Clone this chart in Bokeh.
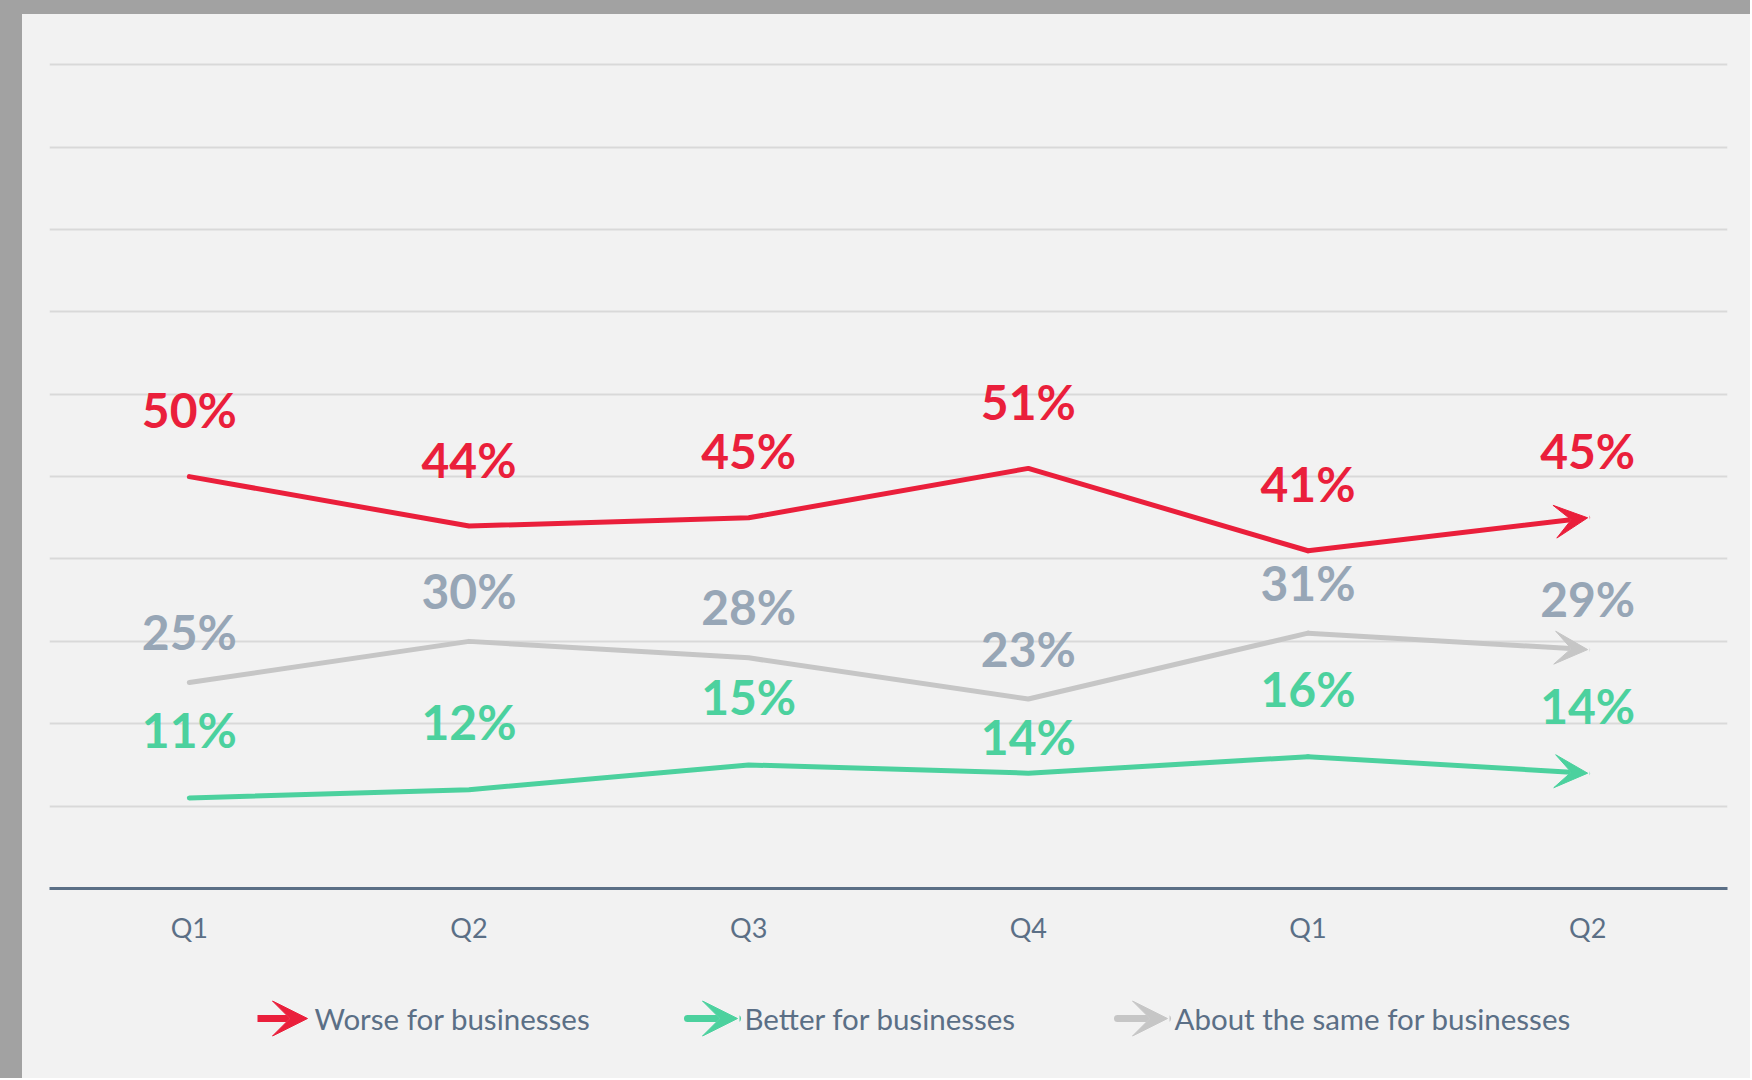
from bokeh.plotting import figure
from bokeh.layouts import column
from bokeh.models import Range1d, FixedTicker, Arrow, VeeHead
from bokeh.core.properties import value
from bokeh.embed import file_html
from bokeh.resources import INLINE

# ---------------- data ----------------
quarters = ["Q1", "Q2", "Q3", "Q4", "Q1", "Q2"]
worse = [50, 44, 45, 51, 41, 45]
better = [11, 12, 15, 14, 16, 14]
same = [25, 30, 28, 23, 31, 29]
grid_ticks = [10, 20, 30, 40, 50, 60, 70, 80, 90, 100]
series_names = ["Worse for businesses", "Better for businesses", "About the same for businesses"]

# ---------------- styles ----------------
RED = "#EA1F3B"
GREEN = "#4CD19E"
GRAY_LINE = "#C6C6C6"
GRAY_LABEL = "#97A6B6"
SLATE = "#5B6F86"
BG = "#F2F2F2"
FONT = "Lato"

xs = [i + 0.5 for i in range(len(quarters))]

W = 1728
BL, BR = 27, 23
p = figure(width=W, height=946, output_backend="svg", toolbar_location=None,
           x_range=Range1d(0, len(quarters)), y_range=Range1d(0, 101),
           y_axis_location=None, min_border_left=BL, min_border_right=BR,
           min_border_top=42, min_border_bottom=72)
p.background_fill_color = BG
p.border_fill_color = BG
p.outline_line_color = None
p.xgrid.visible = False
p.ygrid.ticker = FixedTicker(ticks=grid_ticks)
p.ygrid.grid_line_color = "#D9D9D9"
p.ygrid.grid_line_width = 2

ax = p.xaxis[0]
ax.ticker = FixedTicker(ticks=xs)
ax.major_label_overrides = {x: q for x, q in zip(xs, quarters)}
ax.axis_line_color = SLATE
ax.axis_line_width = 3
ax.major_tick_line_color = None
ax.minor_tick_line_color = None
ax.major_label_text_font = FONT
ax.major_label_text_font_size = "27px"
ax.major_label_text_color = SLATE
ax.major_label_standoff = 16

# label offsets (px above the point); the Q4 "better" label sits closer to its line
series = [
    (same, GRAY_LINE, GRAY_LABEL, [-51] * 6),
    (better, GREEN, GREEN, [-68, -68, -68, -37, -68, -68]),
    (worse, RED, RED, [-67] * 6),
]
for vals, lc, tc, offs in series:
    p.line(xs[:-1], vals[:-1], line_color=lc, line_width=5, line_join="round", line_cap="round")
    p.add_layout(Arrow(end=VeeHead(size=33, fill_color=lc, line_color=lc, line_width=1),
                       x_start=xs[-2], y_start=vals[-2], x_end=xs[-1], y_end=vals[-1],
                       line_color=lc, line_width=5, line_cap="round"))
    p.text(x=xs, y=vals, text=[f"{v}%" for v in vals], y_offset=offs,
           text_font=value(FONT), text_font_style="bold",
           text_font_size="48px", text_color=tc, text_align="center",
           text_baseline="middle")

# ---------------- legend ----------------
LH = 118
pl = figure(width=W, height=LH, output_backend="svg", toolbar_location=None,
            x_range=Range1d(BL, W - BR), y_range=Range1d(0, LH),
            x_axis_location=None, y_axis_location=None,
            min_border_left=BL, min_border_right=BR, min_border_top=0, min_border_bottom=0)
pl.background_fill_color = BG
pl.border_fill_color = BG
pl.outline_line_color = None
pl.grid.visible = False

leg_x = [235, 665, 1095]
leg_colors = [RED, GREEN, GRAY_LINE]
leg_caps = ["butt", "round", "round"]
for x0, c, name, cap in zip(leg_x, leg_colors, series_names, leg_caps):
    pl.add_layout(Arrow(end=VeeHead(size=35, fill_color=c, line_color=c, line_width=1),
                        x_start=x0, y_start=60, x_end=x0 + 50, y_end=60,
                        line_color=c, line_width=7, line_cap=cap))
    pl.text([x0 + 57], [60], text=[name], text_font=value(FONT), text_font_size="29.5px",
            text_color=SLATE, text_align="left", text_baseline="middle")

layout = column(p, pl, spacing=0,
                styles={"border-left": "22px solid #A2A2A2", "border-top": "14px solid #A2A2A2",
                        "background-color": BG})

open("out.html", "w").write(file_html(layout, INLINE))
